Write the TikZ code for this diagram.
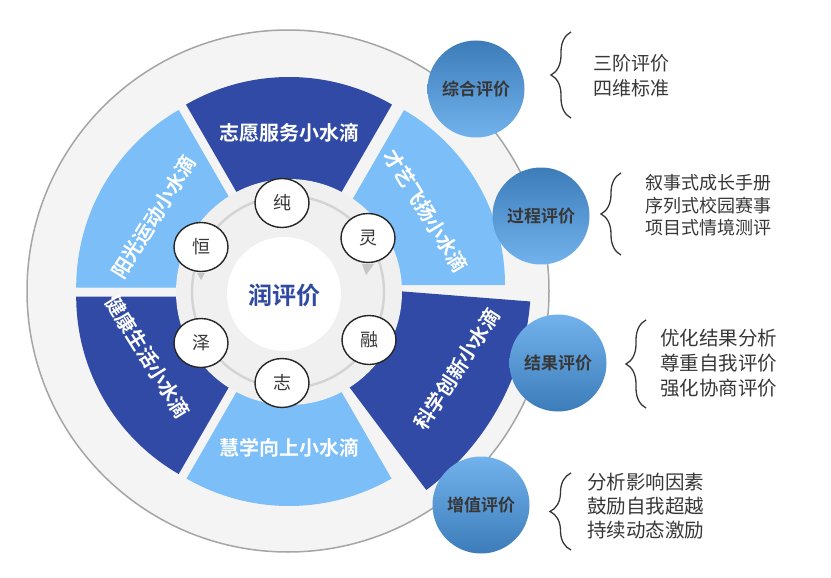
\documentclass[tikz,border=0pt]{standalone}
\usepackage{fontspec}
\setmainfont{Noto Sans CJK SC}[BoldFont={* Bold}]
\usepackage{tikz}
\usetikzlibrary{shapes.geometric,decorations.pathreplacing,positioning}
\definecolor{deepblue}{RGB}{49,74,165}
\definecolor{skyblue}{RGB}{123,190,248}
\definecolor{ringgray}{RGB}{244,244,244}
\definecolor{edgegray}{RGB}{165,165,165}
\definecolor{hubgray}{RGB}{240,240,240}
\definecolor{linegray}{RGB}{212,212,212}
\definecolor{orbdark}{RGB}{60,124,185}
\definecolor{orblight}{RGB}{114,178,236}
\definecolor{inkgray}{RGB}{55,55,55}
\definecolor{titleblue}{RGB}{47,74,160}

\begin{document}
\begin{tikzpicture}[x=1pt,y=1pt,
  virtue/.style={ellipse, draw=black!85, line width=1.4pt, fill=white,
    minimum width=54pt, minimum height=49pt, inner sep=0pt,
    font=\fontsize{18}{18}\selectfont, text=inkgray},
  droplabel/.style={font=\bfseries\fontsize{20}{20}\selectfont, text=white, inner sep=0pt},
  orb/.style={circle, minimum size=97pt, inner sep=0pt,
    font=\bfseries\fontsize{17}{17}\selectfont, text=inkgray},
  orbdown/.style={orb, top color=orbdark, bottom color=orblight},
  orbup/.style={orb, top color=orblight, bottom color=orbdark},
  detail/.style={anchor=west, align=left, inner sep=0pt, text=inkgray},
  curly/.style={decorate, decoration={brace, amplitude=#1}, draw=inkgray, line width=1.3pt},
  pointer/.style={fill=gray!45},
]
  \useasboundingbox (0,0) rectangle (831,-578);
  \coordinate (hub) at (289,-292);

  % outer ring and the six drops
  \fill[ringgray, draw=edgegray, line width=1.5pt] (288,-291) circle[radius=261];
  \fill[deepblue] (289,-283) -- ++(60:206) arc[start angle=60, end angle=120, radius=206] -- cycle;
  \fill[skyblue] (303,-285) -- ++(0:202) arc[start angle=0, end angle=60, radius=202] -- cycle;
  \fill[deepblue] (270,-281) -- ++(-4.5:261) arc[start angle=-4.5, end angle=-53.2, radius=261] -- cycle;
  \fill[skyblue] (289,-301) -- ++(240:205) arc[start angle=240, end angle=300, radius=205] -- cycle;
  \fill[deepblue] (281.2,-296.5) -- ++(180:205) arc[start angle=180, end angle=240, radius=205] -- cycle;
  \fill[skyblue] (281.2,-287.5) -- ++(120:205) arc[start angle=120, end angle=180, radius=205] -- cycle;

  % hub
  \fill[hubgray] (hub) circle[radius=113];
  \draw[linegray, line width=2.5pt] (288,-292) circle[radius=96];
  \fill[white] (284,-294) circle[radius=57];
  \node[font=\bfseries\fontsize{24}{24}\selectfont, text=titleblue] (core) at (284,-295) {润评价};

  \node[virtue] (chun) at (282,-203) {纯};
  \node[virtue] (ling) at (368,-238) {灵};
  \node[virtue] (rong) at (369,-340) {融};
  \node[virtue] (zhi) at (282,-383) {志};
  \node[virtue] (ze) at (201,-343) {泽};
  \node[virtue] (heng) at (201,-247) {恒};
  \fill[pointer] ([xshift=-4pt,yshift=-0.7pt]heng.south) -- ([xshift=4pt,yshift=-0.7pt]heng.south) -- ([yshift=-8pt]heng.south) -- cycle;
  \fill[pointer] ([xshift=-6pt,yshift=-0.7pt]ling.south) -- ([xshift=6pt,yshift=-0.7pt]ling.south) -- ([xshift=-2pt,yshift=-12pt]ling.south) -- cycle;

  \node[droplabel] (volunteer) at (289,-133) {志愿服务小水滴};
  \node[droplabel] (study) at (289,-448) {慧学向上小水滴};
  \node[droplabel, rotate=58] (sport) at (154,-217) {阳光运动小水滴};
  \node[droplabel, rotate=-58] (health) at (148,-357) {健康生活小水滴};
  \node[droplabel, rotate=-58.5] (talent) at (426,-211) {才艺飞扬小水滴};
  \node[droplabel, rotate=57] (science) at (457,-369) {科学创新小水滴};

  % the four evaluations
  \node[orbdown] (overall) at (476,-89) {综合评价};
  \node[orbdown] (process) at (541,-216) {过程评价};
  \node[orbup] (outcome) at (558,-363) {结果评价};
  \node[orbup] (gain) at (481,-505) {增值评价};

  \node[detail, font=\fontsize{19}{25}\selectfont] (overallnote) at (593,-75.5) {三阶评价\\四维标准};
  \node[detail, font=\fontsize{18}{22.5}\selectfont] (processnote) at (645,-205.5) {叙事式成长手册\\序列式校园赛事\\项目式情境测评};
  \node[detail, font=\fontsize{19.5}{25}\selectfont] (outcomenote) at (660,-363) {优化结果分析\\尊重自我评价\\强化协商评价};
  \node[detail, font=\fontsize{19.5}{24}\selectfont] (gainnote) at (587,-506) {分析影响因素\\鼓励自我超越\\持续动态激励};

  \coordinate (overallB) at (571,-118);
  \coordinate (overallT) at (571,-32);
  \coordinate (processB) at (621,-255);
  \coordinate (processT) at (621,-173);
  \coordinate (outcomeB) at (646,-408);
  \coordinate (outcomeT) at (646,-320);
  \coordinate (gainB) at (571,-550);
  \coordinate (gainT) at (571,-473);
  \draw[curly=20] (overallB) -- (overallT);
  \draw[curly=20] (processB) -- (processT);
  \draw[curly=20] (outcomeB) -- (outcomeT);
  \draw[curly=21] (gainB) -- (gainT);
\end{tikzpicture}
\end{document}
